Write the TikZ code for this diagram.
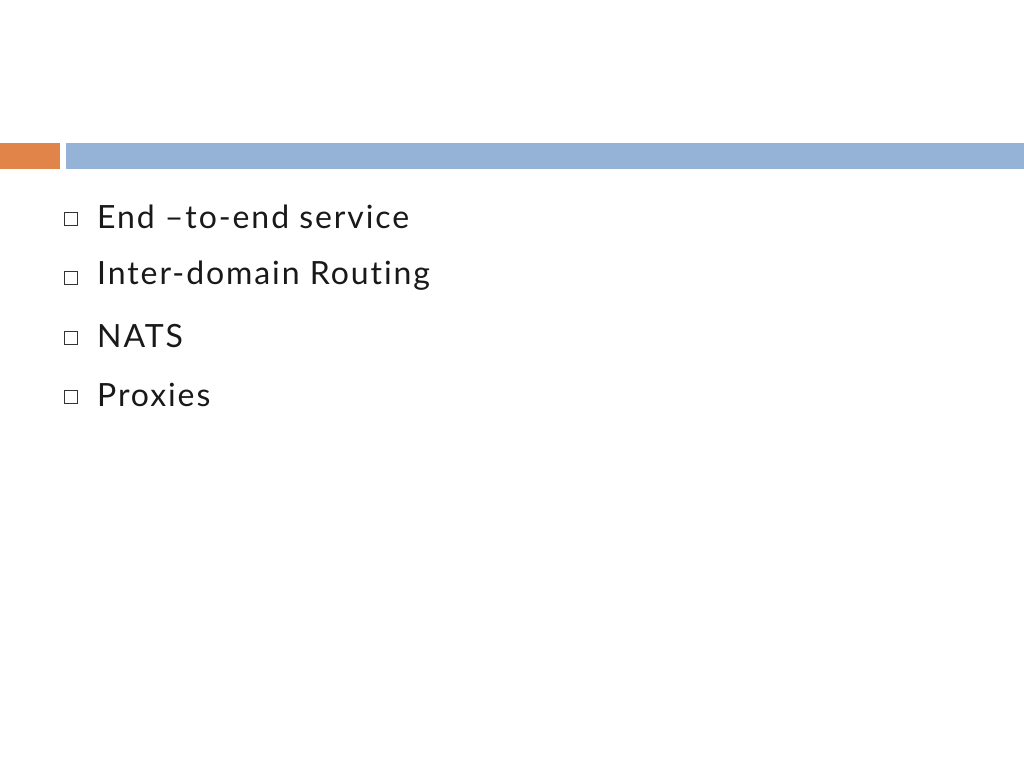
\documentclass[tikz,border=0pt]{standalone}
\usepackage{fontspec}
\setmainfont[Ligatures={NoCommon,NoRare,NoContextual},LetterSpace=6]{Lato}
\definecolor{orng}{HTML}{E0844A}
\definecolor{blu}{HTML}{95B3D7}
\begin{document}
\begin{tikzpicture}[x=1pt,y=-1pt,
  bul/.style={draw=black!80,line width=0.8pt,minimum size=13pt,inner sep=0pt},
  itm/.style={anchor=west,font=\fontsize{32}{38}\selectfont,text=black!90,inner sep=0pt}]
\useasboundingbox[fill=white] (0,0) rectangle (1024,768);
\fill[orng] (0,143) rectangle (60,169);
\fill[blu] (66,143) rectangle (1024,169);
\foreach \y/\t/\n in {217/{End –to-end service}/a,276/{Inter-domain Routing}/b,336/{NATS}/c,395/{Proxies}/d}{
  \node[bul] (s\n) at (71,\y+2) {};
  \node[itm] (t\n) at (97,\y) {\t};
}
\end{tikzpicture}
\end{document}
